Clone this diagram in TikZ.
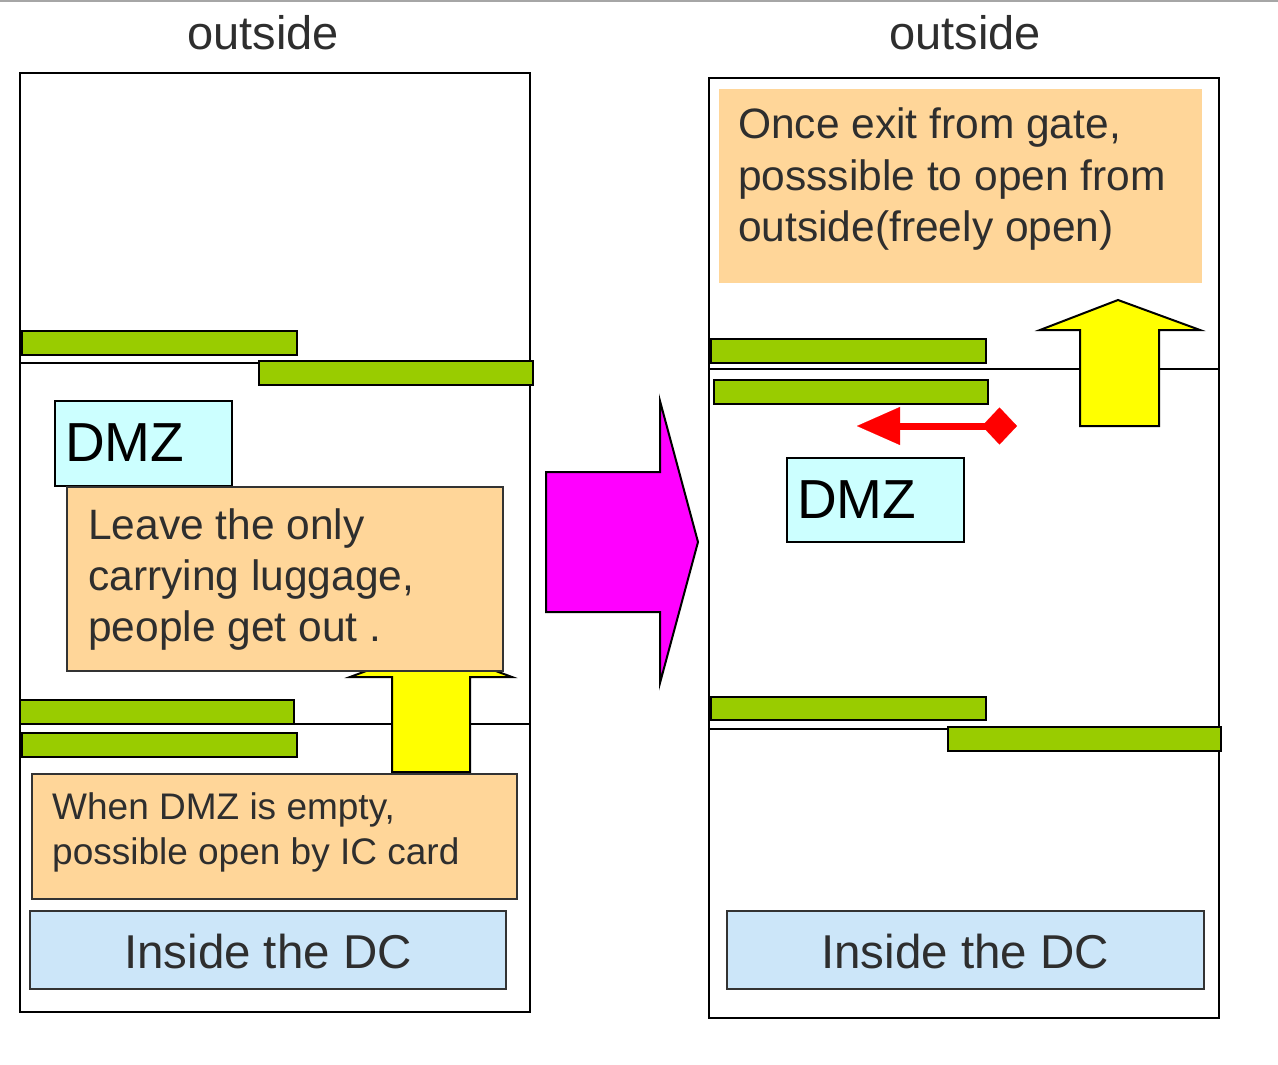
\documentclass[tikz,border=0pt]{standalone}
\usepackage{fontspec}
\setmainfont{Liberation Sans}
\usetikzlibrary{arrows.meta}
\definecolor{barGreen}{HTML}{99CC00}
\definecolor{noteOrange}{HTML}{FFD699}
\definecolor{dmzCyan}{HTML}{CCFFFF}
\definecolor{dcBlue}{HTML}{CCE6F9}
\definecolor{arrowYellow}{HTML}{FFFF00}
\definecolor{arrowMagenta}{HTML}{FF00FF}
\definecolor{textGray}{HTML}{2E2E2E}
\definecolor{ruleGray}{HTML}{A6A6A6}
\tikzset{
  rectbox/.style={rectangle, inner sep=0pt, outer sep=0pt, anchor=north west},
  panel/.style={rectbox, draw=black, line width=2.5pt, fill=white},
  gatebar/.style={rectbox, draw=black, line width=2pt, fill=barGreen},
  wall/.style={draw=black, line width=2pt},
  dmzbox/.style={rectbox, draw=black, line width=2pt, fill=dmzCyan},
  notebox/.style={rectbox, draw=black!80, line width=1.8pt, fill=noteOrange},
  plainnote/.style={rectbox, fill=noteOrange},
  dcbox/.style={rectbox, draw=black!80, line width=2pt, fill=dcBlue},
  blockarrow/.style={draw=black, line width=2pt, line join=miter},
  heading/.style={inner sep=0pt, anchor=base, text=textGray, font=\fontsize{47}{56}\selectfont},
  dmztext/.style={inner sep=0pt, anchor=base west, text=black, font=\fontsize{55}{64}\selectfont},
  notetext/.style={inner sep=0pt, anchor=base west, text=textGray, font=\fontsize{42.5}{51}\selectfont},
  smalltext/.style={inner sep=0pt, anchor=base west, text=textGray, font=\fontsize{37}{45}\selectfont},
  dctext/.style={inner sep=0pt, anchor=base, text=textGray, font=\fontsize{47.5}{56}\selectfont},
}
\begin{document}
\begin{tikzpicture}[x=1pt,y=-1pt]
\useasboundingbox (0,0) rectangle (1278,1065);
\fill[white] (0,0) rectangle (1278,1065);
% thin rule along the top edge
\coordinate (ruleL) at (0,1);
\coordinate (ruleR) at (1278,1);
\draw[ruleGray, line width=2pt] (ruleL) -- (ruleR);

% ---------------- left panel: before exit ----------------
\node[heading] (outL) at (263,50) {outside};
\node[panel, minimum width=510pt, minimum height=939pt] (roomL) at (20,73) {};

% upper gate
\coordinate (wallLa) at (20,363);
\coordinate (wallLb) at (260,363);
\draw[wall] (wallLa) -- (wallLb);
\node[gatebar, minimum width=275pt, minimum height=24pt] (barL1) at (22,331) {};
\node[gatebar, minimum width=274pt, minimum height=24pt] (barL2) at (259,361) {};

% lower gate
\coordinate (wallLc) at (294,724);
\coordinate (wallLd) at (530,724);
\draw[wall] (wallLc) -- (wallLd);
\node[gatebar, minimum width=274pt, minimum height=24pt] (barL3) at (20,700) {};
\node[gatebar, minimum width=275pt, minimum height=24pt] (barL4) at (22,733) {};

% people leave upwards
\draw[blockarrow, fill=arrowYellow]
  (392,772) -- (392,677) -- (350,677) -- (431,647) -- (512,677) -- (470,677) -- (470,772) -- cycle;

\node[dmzbox, minimum width=177pt, minimum height=85pt] (dmzL) at (55,401) {};
\node[dmztext] (dmzLt) at (65,461) {DMZ};

\node[notebox, minimum width=436pt, minimum height=184pt] (noteL) at (67,487) {};
\node[notetext] (noteL1) at (88,539) {Leave the only};
\node[notetext] (noteL2) at (88,590) {carrying luggage,};
\node[notetext] (noteL3) at (88,641) {people get out .};

\node[notebox, minimum width=485pt, minimum height=125pt] (cardL) at (32,774) {};
\node[smalltext] (cardL1) at (52,819) {When DMZ is empty,};
\node[smalltext] (cardL2) at (52,864) {possible open by IC card};

\node[dcbox, minimum width=476pt, minimum height=78pt] (dcL) at (30,911) {};
\node[dctext] (dcLt) at (268,968) {Inside the DC};

% ---------------- transition arrow ----------------
\draw[blockarrow, fill=arrowMagenta]
  (546,472) -- (660,472) -- (660,401) -- (698,542) -- (660,683) -- (660,612) -- (546,612) -- cycle;

% ---------------- right panel: after exit ----------------
\node[heading] (outR) at (965,50) {outside};
\node[panel, minimum width=510pt, minimum height=940pt] (roomR) at (709,78) {};

\node[plainnote, minimum width=483pt, minimum height=194pt] (noteR) at (719,89) {};
\node[notetext] (noteR1) at (738,139) {Once exit from gate,};
\node[notetext] (noteR2) at (738,190) {posssible to open from};
\node[notetext] (noteR3) at (738,241) {outside(freely open)};

% upper gate
\coordinate (wallRa) at (709,369);
\coordinate (wallRb) at (1219,369);
\draw[wall] (wallRa) -- (wallRb);
\node[gatebar, minimum width=275pt, minimum height=24pt] (barR1) at (711,339) {};
\node[gatebar, minimum width=274pt, minimum height=24pt] (barR2) at (714,380) {};

% outer door opens freely
\draw[blockarrow, fill=arrowYellow]
  (1080,426) -- (1080,330) -- (1040,330) -- (1118,300) -- (1200,330) -- (1159,330) -- (1159,426) -- cycle;

% door movement
\coordinate (slideL) at (857,426);
\coordinate (slideR) at (1017,426);
\draw[red, line width=7pt,
  {Triangle[length=43pt,width=38pt,line width=0.1pt]}-{Diamond[length=35pt,width=37pt,line width=0.1pt]}]
  (slideL) -- (slideR);

\node[dmzbox, minimum width=177pt, minimum height=84pt] (dmzR) at (787,458) {};
\node[dmztext] (dmzRt) at (797,518) {DMZ};

% lower gate
\coordinate (wallRc) at (709,729);
\coordinate (wallRd) at (948,729);
\draw[wall] (wallRc) -- (wallRd);
\node[gatebar, minimum width=275pt, minimum height=23pt] (barR3) at (711,697) {};
\node[gatebar, minimum width=273pt, minimum height=24pt] (barR4) at (948,727) {};

\node[dcbox, minimum width=477pt, minimum height=78pt] (dcR) at (727,911) {};
\node[dctext] (dcRt) at (965,968) {Inside the DC};
\end{tikzpicture}
\end{document}
